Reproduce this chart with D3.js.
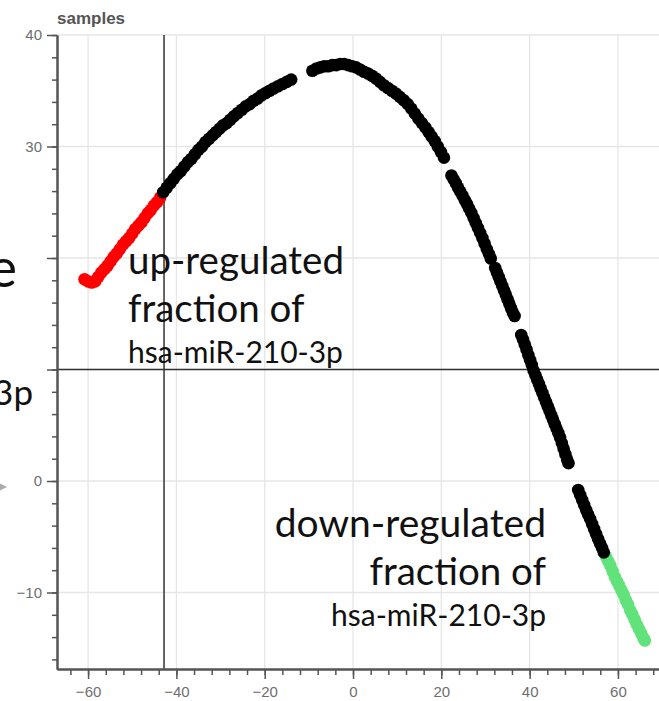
<!DOCTYPE html>
<html>
<head>
<meta charset="utf-8">
<script src="https://cdn.jsdelivr.net/npm/d3@7"></script>
<style>
  html, body { margin: 0; padding: 0; background: #fff; }
  svg { display: block; }
</style>
</head>
<body>
<div id="chart"></div>
<script>
// Samples along the curve, split in the three coloured groups.
var upX = [-60.8, -60.0, -59.2, -58.4, -57.7, -57.0, -56.3, -55.6, -54.9, -54.2, -53.5, -52.8, -52.1,
  -51.4, -50.7, -50.0, -49.3, -48.6, -47.9, -47.2, -46.5, -45.8, -45.1, -44.4, -43.7];
var upY = [18.1, 17.9, 17.8, 17.9, 18.3, 18.7, 19.0, 19.3, 19.7, 20.1, 20.4, 20.8, 21.2,
  21.5, 21.8, 22.2, 22.6, 22.9, 23.2, 23.6, 24.0, 24.3, 24.7, 25.0, 25.4];

var midX = [
  -43.0, -42.2, -41.4, -40.6, -39.8, -39.0, -38.2, -37.4, -36.6, -35.8, -35.0, -34.2, -33.4, -32.6,
  -31.8, -31.0, -30.2, -29.4, -28.6, -27.8, -27.0, -26.1, -25.2, -24.3, -23.4, -22.5, -21.6, -20.7,
  -19.8, -18.9, -18.0, -17.0, -16.0, -15.0, -14.0,
  -9.2, -8.3, -7.4, -6.5, -5.6, -4.7, -3.8, -2.9, -2.0, -1.1, -0.2, 0.7, 1.6, 2.5, 3.4, 4.3, 5.2,
  6.1, 7.0, 7.9, 8.8, 9.7, 10.6, 11.5, 12.4, 13.2, 14.0, 14.8, 15.6, 16.4, 17.1, 17.8, 18.5, 19.2,
  19.9, 20.6,
  22.3, 22.8, 23.3, 23.8, 24.3, 24.8, 25.3, 25.8, 26.3, 26.8, 27.3, 27.8, 28.3, 28.8, 29.3, 29.8,
  30.3, 30.8, 31.2,
  32.2, 32.6, 33.0, 33.4, 33.8, 34.2, 34.6, 35.0, 35.4, 35.8, 36.2, 36.6,
  38.1, 38.5, 38.9, 39.3, 39.7, 40.1, 40.5, 40.9, 41.3, 41.7, 42.1, 42.5, 42.9, 43.3, 43.7, 44.1,
  44.5, 44.9, 45.3, 45.7, 46.1, 46.5, 46.9, 47.3, 47.7, 48.1, 48.5, 48.8,
  51.0, 51.45, 51.9, 52.35, 52.8, 53.25, 53.7, 54.15, 54.6, 55.05, 55.5, 55.95, 56.4, 56.8];
var midY = [
  25.9, 26.3, 26.7, 27.1, 27.5, 27.8, 28.2, 28.6, 28.9, 29.3, 29.7, 30.0, 30.4, 30.7,
  31.0, 31.3, 31.6, 31.9, 32.1, 32.4, 32.7, 33.0, 33.3, 33.6, 33.8, 34.1, 34.3, 34.6,
  34.8, 35.0, 35.2, 35.4, 35.6, 35.8, 36.0,
  36.8, 37.0, 37.1, 37.2, 37.2, 37.3, 37.3, 37.4, 37.4, 37.3, 37.2, 37.1, 36.9, 36.7, 36.55, 36.35, 36.1,
  35.8, 35.5, 35.25, 35.0, 34.75, 34.45, 34.15, 33.8, 33.4, 32.95, 32.5, 32.1, 31.7, 31.3, 30.9, 30.5, 30.0,
  29.5, 29.0,
  27.4, 27.05, 26.7, 26.3, 25.95, 25.6, 25.2, 24.85, 24.45, 24.05, 23.6, 23.15, 22.7, 22.25, 21.8, 21.3,
  20.8, 20.35, 19.95,
  19.1, 18.7, 18.3, 17.9, 17.5, 17.1, 16.7, 16.3, 15.9, 15.5, 15.1, 14.8,
  13.1, 12.7, 12.25, 11.8, 11.3, 10.85, 10.4, 9.9, 9.5, 9.1, 8.7, 8.3, 7.9, 7.5, 7.1, 6.7,
  6.3, 5.9, 5.5, 5.1, 4.7, 4.3, 3.9, 3.4, 2.9, 2.4, 1.9, 1.6,
  -0.8, -1.25, -1.7, -2.15, -2.6, -3.0, -3.4, -3.85, -4.3, -4.75, -5.2, -5.6, -6.0, -6.4];

var downX = [57.3, 57.8, 58.3, 58.8, 59.3, 59.8, 60.3, 60.8, 61.3, 61.8, 62.3, 62.8, 63.3, 63.8,
  64.3, 64.8, 65.3, 65.8, 66.1];
var downY = [-6.8, -7.2, -7.6, -8.1, -8.6, -9.0, -9.4, -9.8, -10.2, -10.7, -11.1, -11.6, -12.0, -12.45,
  -12.9, -13.3, -13.7, -14.1, -14.3];

// Cut-off lines and axis ticks
var cutX = -42.8;
var cutY = 10;
var xTicks = [-60, -40, -20, 0, 20, 40, 60];
var xMinor = d3.range(-64, 69, 4);
var yTicks = [-10, 0, 10, 20, 30, 40];
var yLabelled = [-10, 0, 30, 40];
var yMinor = d3.range(-16, 41, 2);

var upLines = ['up-regulated', 'fraction of', 'hsa-miR-210-3p'];
var downLines = ['down-regulated', 'fraction of', 'hsa-miR-210-3p'];

var W = 659, H = 701;
var AXIS = '#555';
var GRID = '#e6e6e6';
var TICK_TXT = '#6e6e6e';

var x = d3.scaleLinear().domain([-67.04, 69.3]).range([57, 659]);
var y = d3.scaleLinear().domain([-16.86, 40]).range([669, 35]);

var svg = d3.select('#chart').append('svg')
  .attr('width', W).attr('height', H);

// grid
var grid = svg.append('g');
grid.selectAll('line.gx').data(xTicks).enter().append('line')
  .attr('x1', function (d) { return x(d); }).attr('x2', function (d) { return x(d); })
  .attr('y1', y(40)).attr('y2', y.range()[0])
  .attr('stroke', GRID).attr('stroke-width', 1.3);
grid.selectAll('line.gy').data(yTicks).enter().append('line')
  .attr('y1', function (d) { return y(d); }).attr('y2', function (d) { return y(d); })
  .attr('x1', x.range()[0]).attr('x2', W)
  .attr('stroke', GRID).attr('stroke-width', 1.3);

// cut-off lines
svg.append('line')
  .attr('x1', x(cutX)).attr('x2', x(cutX))
  .attr('y1', y(40)).attr('y2', y.range()[0])
  .attr('stroke', '#333').attr('stroke-width', 1.5);
svg.append('line')
  .attr('x1', x.range()[0]).attr('x2', W)
  .attr('y1', y(cutY)).attr('y2', y(cutY))
  .attr('stroke', '#333').attr('stroke-width', 1.5);

function styleAxis(g) {
  g.select('.domain').attr('stroke', AXIS).attr('stroke-width', 2);
  g.selectAll('.tick line').attr('stroke', AXIS).attr('stroke-width', 1.5);
  g.selectAll('.tick text').attr('fill', TICK_TXT)
    .style('font-family', '"Liberation Sans", Arial, sans-serif').style('font-size', '15px');
}

// minor ticks first, major on top
svg.append('g').attr('transform', 'translate(0,' + y.range()[0] + ')')
  .call(d3.axisBottom(x).tickValues(xMinor).tickSize(6).tickSizeOuter(0).tickFormat(''))
  .call(styleAxis);
svg.append('g').attr('transform', 'translate(' + x.range()[0] + ',0)')
  .call(d3.axisLeft(y).tickValues(yMinor).tickSize(5).tickSizeOuter(0).tickFormat(''))
  .call(styleAxis);
svg.append('g').attr('transform', 'translate(0,' + y.range()[0] + ')')
  .call(d3.axisBottom(x).tickValues(xTicks).tickSize(10).tickSizeOuter(0).tickPadding(7))
  .call(styleAxis);
svg.append('g').attr('transform', 'translate(' + x.range()[0] + ',0)')
  .call(d3.axisLeft(y).tickValues(yTicks).tickSize(10).tickSizeOuter(0).tickPadding(5)
    .tickFormat(function (d) { return yLabelled.indexOf(d) >= 0 ? d3.format('d')(d) : ''; }))
  .call(styleAxis);

svg.append('text')
  .attr('x', 57).attr('y', 24)
  .attr('fill', '#555')
  .style('font-family', '"Liberation Sans", Arial, sans-serif')
  .style('font-size', '17px').style('font-weight', 'bold')
  .text('samples');

// points
var R = 6.3;
function dots(xs, ys, color) {
  var pts = xs.map(function (v, i) { return [v, ys[i]]; });
  svg.append('g').selectAll('circle').data(pts).enter().append('circle')
    .attr('cx', function (d) { return x(d[0]); })
    .attr('cy', function (d) { return y(d[1]); })
    .attr('r', R)
    .attr('fill', color);
}
dots(upX, upY, '#ff0000');
dots(downX, downY, '#62e27a');
dots(midX, midY, '#000000');

// annotations
var FONT = 'Lato, "Open Sans", sans-serif';
function block(lines, ax, anchor, baselines, sizes) {
  var g = svg.append('g').attr('fill', '#111')
    .style('font-family', FONT).attr('text-anchor', anchor);
  lines.forEach(function (t, i) {
    g.append('text').attr('x', ax).attr('y', baselines[i])
      .style('font-size', sizes[i] + 'px').text(t);
  });
}
block(upLines, 128, 'start', [274, 322, 363], [38.5, 38.5, 30]);
block(downLines, 546, 'end', [537, 585, 626], [39, 38.5, 30]);

// fragments of neighbouring slide text, cut by the left edge
svg.append('text').attr('x', 17).attr('y', 287).attr('text-anchor', 'end')
  .style('font-family', FONT).style('font-size', '54px').attr('fill', '#111').text('e');
svg.append('text').attr('x', 33).attr('y', 405).attr('text-anchor', 'end')
  .style('font-family', FONT).style('font-size', '35px').attr('fill', '#111').text('3p');
svg.append('path').attr('d', 'M0,483.5 L7,487 L0,490.5 Z').attr('fill', '#aaa');
</script>
</body>
</html>
